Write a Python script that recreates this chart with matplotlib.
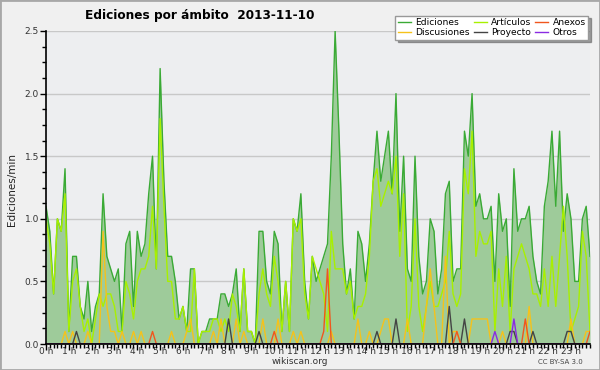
import numpy as np
import matplotlib
matplotlib.use("Agg")
import matplotlib.pyplot as plt
from matplotlib.ticker import MultipleLocator, FixedLocator

# 10-minute bins over the day (minutes since 00:00)
minutos = np.arange(0, 1440, 10)

# Ediciones/min per bin
ediciones = [
    1.1, 0.9, 0.4, 1.0, 0.9, 1.4, 0.1, 0.7, 0.7, 0.3, 0.2, 0.5,
    0.1, 0.3, 0.4, 1.2, 0.7, 0.6, 0.5, 0.6, 0.1, 0.8, 0.9, 0.3,
    0.9, 0.7, 0.8, 1.2, 1.5, 0.6, 2.2, 1.3, 0.7, 0.7, 0.5, 0.2,
    0.3, 0.1, 0.6, 0.6, 0.0, 0.1, 0.1, 0.2, 0.2, 0.2, 0.4, 0.4,
    0.3, 0.4, 0.6, 0.1, 0.6, 0.1, 0.1, 0.0, 0.9, 0.9, 0.5, 0.4,
    0.9, 0.8, 0.1, 0.5, 0.1, 1.0, 0.9, 1.2, 0.5, 0.2, 0.7, 0.5,
    0.6, 0.7, 0.8, 1.5, 2.5, 1.7, 0.8, 0.4, 0.6, 0.2, 0.9, 0.8,
    0.5, 0.8, 1.3, 1.7, 1.3, 1.5, 1.7, 1.2, 2.0, 0.9, 1.5, 0.6,
    0.5, 1.5, 0.7, 0.4, 0.5, 1.0, 0.9, 0.4, 0.6, 1.2, 1.3, 0.5,
    0.6, 0.6, 1.7, 1.5, 2.0, 1.1, 1.2, 1.0, 1.0, 1.1, 0.5, 1.2,
    0.9, 1.0, 0.3, 1.4, 0.9, 1.0, 1.0, 1.1, 0.7, 0.5, 0.4, 1.1,
    1.3, 1.7, 1.1, 1.7, 0.9, 1.2, 1.0, 0.5, 0.5, 1.0, 1.1, 0.7,
]

articulos = [
    1.0, 0.8, 0.4, 1.0, 0.9, 1.2, 0.1, 0.5, 0.6, 0.3, 0.1, 0.2,
    0.0, 0.2, 0.4, 0.3, 0.4, 0.4, 0.3, 0.1, 0.1, 0.5, 0.4, 0.2,
    0.5, 0.6, 0.6, 0.7, 1.1, 0.6, 1.8, 1.1, 0.5, 0.5, 0.2, 0.2,
    0.3, 0.1, 0.1, 0.6, 0.0, 0.1, 0.1, 0.1, 0.2, 0.2, 0.1, 0.2,
    0.1, 0.4, 0.3, 0.1, 0.6, 0.1, 0.1, 0.0, 0.4, 0.6, 0.4, 0.3,
    0.7, 0.5, 0.1, 0.5, 0.1, 1.0, 0.9, 1.0, 0.4, 0.2, 0.7, 0.6,
    0.5, 0.4, 0.1, 0.9, 0.6, 0.6, 0.6, 0.4, 0.5, 0.2, 0.3, 0.3,
    0.4, 0.7, 1.3, 1.4, 1.1, 1.2, 1.3, 1.2, 1.5, 0.7, 1.2, 0.1,
    0.3, 1.0, 0.3, 0.1, 0.3, 0.5, 0.3, 0.3, 0.4, 0.5, 0.9, 0.4,
    0.3, 0.4, 1.4, 1.2, 1.7, 0.7, 0.9, 0.8, 0.8, 0.9, 0.1, 0.6,
    0.3, 0.7, 0.1, 0.6, 0.7, 0.8, 0.7, 0.6, 0.4, 0.4, 0.3, 0.6,
    0.3, 0.7, 0.3, 0.7, 1.1, 0.7, 0.1, 0.2, 0.3, 0.9, 0.7, 0.1,
]

# sparse series: {bin index: value}
discusiones_pts = {
    5: 0.1, 7: 0.1, 11: 0.1, 15: 0.9, 16: 0.3, 17: 0.1, 18: 0.1, 20: 0.1,
    23: 0.1, 25: 0.1, 33: 0.1, 37: 0.1, 38: 0.2, 44: 0.1, 46: 0.2, 50: 0.2,
    52: 0.1, 57: 0.2, 61: 0.2, 65: 0.1, 67: 0.1, 75: 0.1, 82: 0.2, 85: 0.1,
    88: 0.1, 89: 0.2, 90: 0.2, 95: 0.2, 100: 0.3, 101: 0.6, 102: 0.3,
    105: 0.7, 107: 0.1, 108: 0.1, 112: 0.2, 113: 0.2, 114: 0.2, 115: 0.2,
    116: 0.2, 120: 0.1, 127: 0.3, 138: 0.2, 142: 0.1, 143: 0.1,
}
proyecto_pts = {
    8: 0.1, 48: 0.2, 56: 0.1, 87: 0.1, 92: 0.2, 106: 0.3, 110: 0.2,
    122: 0.1, 123: 0.1, 128: 0.1, 137: 0.1, 138: 0.1,
}
anexos_pts = {28: 0.1, 60: 0.1, 73: 0.1, 74: 0.6, 108: 0.1, 126: 0.2, 143: 0.1}
otros_pts = {118: 0.1, 123: 0.2}

horas = [f"{h} h" for h in range(24)]


def serie(pts):
    v = np.zeros(len(minutos))
    for k, val in pts.items():
        v[k] = val
    return v


x = minutos / 60.0

fig = plt.figure(figsize=(6, 3.7), dpi=100, facecolor='#F0F0F0')
fig.patches.append(plt.Rectangle((0, 0), 1, 1, transform=fig.transFigure,
                                 fill=False, edgecolor='#A8A8A8', linewidth=2))
ax = fig.add_axes([46 / 600, 26 / 370, 544 / 600, 313 / 370])
ax.set_facecolor('#EDEEF0')

ax.fill_between(x, ediciones, color='#9ECB9A', linewidth=0)
l_ed, = ax.plot(x, ediciones, color='#3AAA35', lw=1, label='Ediciones')
l_art, = ax.plot(x, articulos, color='#A8F000', lw=1, label='Artículos')
l_dis, = ax.plot(x, serie(discusiones_pts), color='#F5C21B', lw=1, label='Discusiones')
l_pro, = ax.plot(x, serie(proyecto_pts), color='#444444', lw=1, label='Proyecto')
l_anx, = ax.plot(x, serie(anexos_pts), color='#F0561E', lw=1, label='Anexos')
l_otr, = ax.plot(x, serie(otros_pts), color='#8A2BE2', lw=1, label='Otros')

ax.set_xlim(0, x[-1])
ax.set_ylim(0, 2.5)
ax.yaxis.set_major_locator(MultipleLocator(0.5))
ax.yaxis.set_minor_locator(MultipleLocator(0.125))
ax.set_xticks(range(24))
ax.set_xticklabels(horas)
ax.xaxis.set_minor_locator(FixedLocator(x))
ax.yaxis.set_major_formatter(matplotlib.ticker.FormatStrFormatter('%.1f'))
ax.tick_params(axis='both', which='major', length=4, width=1, labelsize=6.5,
               colors='#000000', labelcolor='#333333')
ax.tick_params(axis='x', which='major', pad=-1.5)
ax.tick_params(axis='y', which='major', pad=1)
ax.tick_params(axis='both', which='minor', length=3, width=1)
ax.grid(True, axis='y', which='major', color='#C8C8C8', lw=1)
ax.set_axisbelow(True)
for s in ['top', 'right']:
    ax.spines[s].set_visible(False)
for s in ['left', 'bottom']:
    ax.spines[s].set_linewidth(1.2)

fig.text(85 / 600, 1 - 15 / 370, 'Ediciones por ámbito  2013-11-10',
         fontsize=8.7, fontweight='bold', ha='left', va='center')
fig.text(12 / 600, 1 - 190 / 370, 'Ediciones/min', rotation=90,
         fontsize=7.5, ha='center', va='center', color='#222222')
fig.text(0.5, 1 - 362 / 370, 'wikiscan.org', fontsize=6.5,
         ha='center', va='center', color='#333333')
fig.text(560 / 600, 1 - 362 / 370, 'CC BY-SA 3.0', fontsize=5,
         ha='center', va='center', color='#444444')

leg = fig.legend([l_ed, l_dis, l_art, l_pro, l_anx, l_otr],
                 ['Ediciones', 'Discusiones', 'Artículos', 'Proyecto', 'Anexos', 'Otros'],
                 ncol=3, loc='upper right', bbox_to_anchor=(593 / 600, 1 - 11 / 370),
                 fontsize=6.6, frameon=True, fancybox=False, shadow=True,
                 handlelength=1.4, handletextpad=0.5, columnspacing=0.4,
                 labelspacing=0.05, borderpad=0.3)
leg.get_frame().set_edgecolor('#999999')
leg.get_frame().set_linewidth(1)

fig.savefig('out.png', dpi=100, facecolor=fig.get_facecolor())
